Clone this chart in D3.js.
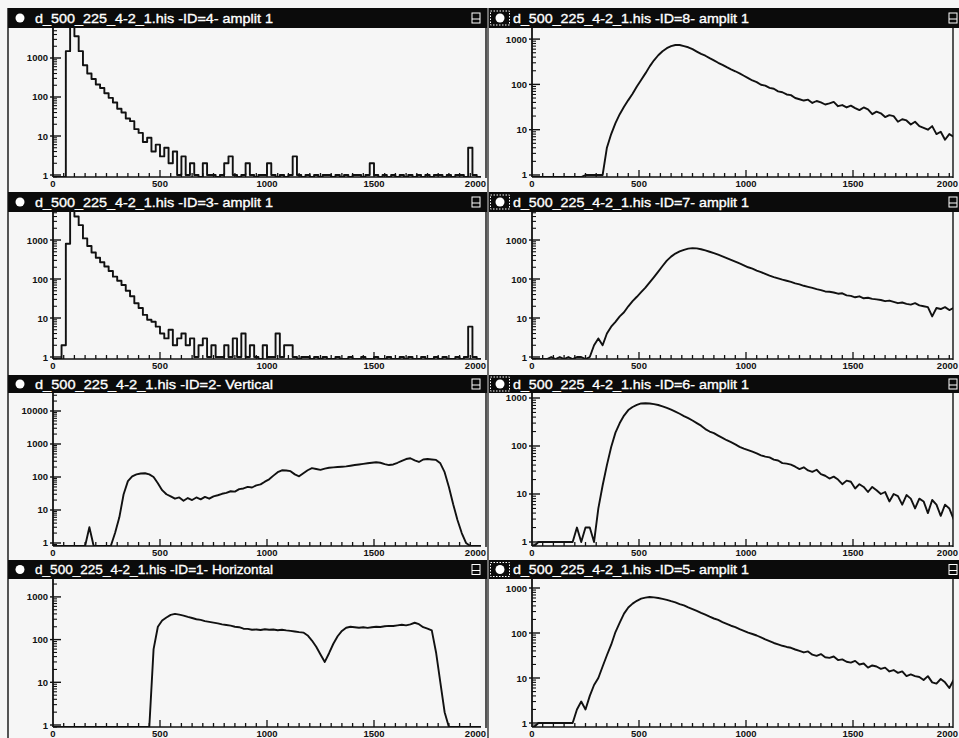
<!DOCTYPE html>
<html><head><meta charset="utf-8">
<script src="https://cdn.jsdelivr.net/npm/d3@7"></script>
<style>body{margin:0;background:#f6f6f6;} svg{display:block}</style>
</head><body><svg id="c" width="959" height="738"></svg>
<script>
// ---------------- DATA ----------------
const binWidth = 20;
const binStarts = d3.range(0, 2000, binWidth);   // channel bins 0..1980
const xTickValues = [0, 500, 1000, 1500, 2000];
const xTickLabels = ["0", "500", "1000", "1500", "2000"];

const titles = [
  "d_500_225_4-2_1.his -ID=4- amplit 1",
  "d_500_225_4-2_1.his -ID=8- amplit 1",
  "d_500_225_4-2_1.his -ID=3- amplit 1",
  "d_500_225_4-2_1.his -ID=7- amplit 1",
  "d_500_225_4-2_1.his -ID=2- Vertical",
  "d_500_225_4-2_1.his -ID=6- amplit 1",
  "d_500_225_4-2_1.his -ID=1- Horizontal",
  "d_500_225_4-2_1.his -ID=5- amplit 1"
];

const id4 = [0,0,0,1500,6500,3600,1500,650,400,290,
 210,170,125,95,72,50,40,28,24,15,
 12,7,9,4,6,3,5,2,4,1,
 3,1,2,1,0,2,1,1,0,1,
 2,3,1,0,1,2,1,0,1,1,
 2,1,0,1,0,1,3,1,0,1,
 0,1,0,1,1,0,1,0,1,0,
 1,1,0,1,2,1,0,1,0,1,
 0,1,0,1,0,1,0,1,0,1,
 1,0,1,0,1,1,0,5,1,0];

const id8 = [0,0,0,0,0,0,0,0,0,0,
 0,0,1,1,1,1,1,4,8,14,
 22,32,45,62,90,125,175,250,340,440,
 540,630,700,740,740,700,660,600,530,470,
 430,380,340,300,270,240,215,195,175,155,
 138,122,112,98,94,84,80,70,67,60,
 58,50,47,44,46,39,43,40,36,38,
 41,33,35,31,34,30,27,31,28,22,
 25,23,19,21,20,15,17,16,13,15,
 12,11,10,12,8,9,6,8,7,5.5];

const id3 = [0,0,2,800,5500,4000,2400,1100,700,480,
 350,270,210,160,115,90,70,50,36,24,
 18,12,9,8,6,4,3,5,2,3,
 4,2,3,1,2,3,1,2,1,1,
 2,1,3,1,4,1,2,1,0,2,
 1,1,4,1,2,2,1,0,1,1,
 0,1,0,1,0,0,1,0,0,1,
 0,0,1,0,0,1,0,0,1,0,
 0,1,0,1,0,0,1,0,0,1,
 0,1,0,0,1,0,1,6,1,0];

const id7 = [0,0,0,0,1,0,1,0,1,0,
 1,1,0,1,2,3,2,4,6,8,
 11,14,20,27,35,46,60,82,112,155,
 215,295,375,450,510,560,600,620,610,580,
 540,500,460,420,380,345,310,280,250,225,
 200,185,165,150,135,122,112,104,96,90,
 84,77,73,67,63,59,55,52,48,47,
 45,42,43,38,37,34,36,32,33,31,
 30,29,27,28,26,24,25,23,22,24,
 21,20,19,11,18,17,19,16,18,16];

const id2 = [0,0,0,0,0,0,0,0,3,0,
 0,0,0,0,2,6,30,75,105,120,
 128,130,120,100,65,40,30,26,22,24,
 19,23,20,24,21,25,22,26,28,31,
 33,37,36,43,45,50,48,56,60,72,
 85,110,140,160,158,150,120,105,130,160,
 185,175,165,180,190,195,200,205,210,220,
 230,240,250,260,270,280,270,245,230,240,
 270,310,350,370,320,285,340,350,340,330,
 260,140,50,15,5,2,1,0,0,0];

const id6 = [0,1,1,1,1,1,1,1,1,1,
 2,1,2,2,1,5,15,40,95,190,
 300,430,560,650,720,770,780,770,745,715,
 670,620,570,520,470,420,380,340,300,265,
 225,200,185,165,148,132,120,108,96,88,
 82,76,70,64,60,58,52,50,44,43,
 41,37,33,36,31,29,32,26,24,21,
 23,20,16,19,18,13,16,14,11,14,
 12,10,11,7,10,9,6,9.5,8,5,
 8,7,4,7.5,6,3.5,6,5,3,5];

const id1 = [0,0,0,0,0,0,0,0,0,0,
 0,0,0,0,0,0,0,0,0,0,
 0,0,0,60,200,280,330,380,400,385,
 365,340,320,300,290,270,260,250,240,228,
 220,212,200,195,180,178,170,172,168,175,
 170,172,166,170,164,160,155,150,146,125,
 95,68,45,30,48,80,120,160,190,200,
 195,190,195,188,195,200,198,205,210,208,
 215,222,215,228,248,230,195,180,165,50,
 10,2,0,0,0,0,0,0,0,0];

const id5 = [0,1,1,1,1,1,1,1,1,1,
 2,3,2,4,7,10,18,32,55,105,
 170,270,370,450,520,580,610,630,620,600,
 575,545,510,480,440,410,370,340,310,280,
 255,230,210,195,175,160,145,135,122,112,
 102,95,88,80,72,66,60,56,52,49,
 47,43,40,37,39,33,31,34,29,28,
 30,25,26,23,22,24,20,21,17,19,
 18,16,17,14,15,13,14,11,12,11,
 10.5,9,11,8,7.5,9.5,8,6,9,7];

const seriesList = [id4, id8, id3, id7, id2, id6, id1, id5];
const yMin = [0.889, 0.903, 0.889, 0.889, 0.811, 0.825, 0.898, 0.815];
const yMax = [5875, 1758, 5224, 5224, 35100, 1271, 2626, 1585];
const stepStyle = [true, false, true, false, false, false, false, false];

// ---------------- LAYOUT ----------------
const cols = [
  {x0: 8, x1: 487, ax0: 53, ax1: 481, clipR: 486, circ: 20, tx: 35, tw: 238, lab: 48},
  {x0: 489, x1: 959, ax0: 532, ax1: 960, clipR: 953, circ: 500, tx: 513, tw: 236, lab: 527}
];
const rows = [
  {top: 8, barB: 28, axisY: 177, bottom: 192},
  {top: 192, barB: 212, axisY: 359, bottom: 375},
  {top: 375, barB: 393, axisY: 546, bottom: 560},
  {top: 560, barB: 579, axisY: 727, bottom: 738}
];

const svg = d3.select("#c");
const INK = "#111";
const FONT = "Liberation Sans, Arial, sans-serif";
svg.append("rect").attr("width", 959).attr("height", 738).attr("fill", "#f6f6f6");

seriesList.forEach((vals, k) => {
  const c = cols[k % 2], r = rows[Math.floor(k / 2)];
  const g = svg.append("g");
  const clipId = "pc" + k;
  svg.append("clipPath").attr("id", clipId).append("rect")
    .attr("x", c.x0).attr("y", r.top).attr("width", c.x1 - c.x0).attr("height", r.bottom - r.top);
  g.attr("clip-path", `url(#${clipId})`);

  const x = d3.scaleLinear().domain([0, 2000]).range([c.ax0, c.ax1]);
  const y = d3.scaleLog().domain([yMin[k], yMax[k]]).range([r.axisY, r.barB]);

  const dclip = "dc" + k;
  svg.append("clipPath").attr("id", dclip).append("rect")
    .attr("x", c.ax0).attr("y", r.barB).attr("width", c.clipR - c.ax0).attr("height", r.axisY - r.barB);

  let pts, line;
  if (stepStyle[k]) {
    pts = binStarts.map((s, i) => [s, Math.max(vals[i], yMin[k])]);
    pts.push([2000, Math.max(vals[vals.length - 1], yMin[k])]);
    line = d3.line().x(d => x(d[0])).y(d => y(d[1])).curve(d3.curveStepAfter);
  } else {
    pts = binStarts.map((s, i) => [s + binWidth / 2, Math.max(vals[i], yMin[k])]);
    pts.unshift([0, Math.max(vals[0], yMin[k])]);
    pts.push([2000, Math.max(vals[vals.length - 1], yMin[k])]);
    line = d3.line().x(d => x(d[0])).y(d => y(d[1])).curve(d3.curveLinear);
  }
  g.append("path").attr("clip-path", `url(#${dclip})`).attr("d", line(pts))
    .attr("fill", "none").attr("stroke", INK).attr("stroke-width", 1.9).attr("stroke-linejoin", "round");

  // axes
  const right = Math.min(c.clipR, c.ax1);
  g.append("line").attr("x1", c.ax0).attr("x2", right).attr("y1", r.axisY).attr("y2", r.axisY)
    .attr("stroke", INK).attr("stroke-width", 1.6);
  g.append("line").attr("x1", c.ax0).attr("x2", c.ax0).attr("y1", r.axisY).attr("y2", r.barB)
    .attr("stroke", INK).attr("stroke-width", 1.8);
  g.append("line").attr("x1", c.clipR).attr("x2", c.clipR).attr("y1", r.axisY + 1).attr("y2", r.barB)
    .attr("stroke", INK).attr("stroke-width", 1.4);

  // x ticks
  d3.range(50, 2000, 50).forEach(t => {
    const big = t % 500 === 0;
    if (x(t) > right) return;
    g.append("line").attr("x1", x(t)).attr("x2", x(t)).attr("y1", r.axisY)
      .attr("y2", r.axisY - (big ? 7 : 4)).attr("stroke", INK).attr("stroke-width", 1.3);
  });
  xTickValues.forEach((t, i) => {
    let tx = x(t), anchor = "middle";
    if (t === 2000) { tx = c.x1 - 1; anchor = "end"; }
    g.append("text").attr("x", tx).attr("y", r.axisY + 10).attr("text-anchor", anchor)
      .attr("font-family", FONT).attr("font-weight", "bold")
      .attr("font-size", 9.5).attr("fill", INK).text(xTickLabels[i]);
  });

  // y ticks
  const lo = Math.floor(Math.log10(yMin[k])), hi = Math.ceil(Math.log10(yMax[k]));
  for (let e = lo; e <= hi; e++) {
    for (let m = 1; m <= 9; m++) {
      const v = m * Math.pow(10, e);
      if (v < yMin[k] || v > yMax[k]) continue;
      const yy = y(v);
      if (m === 1) {
        g.append("line").attr("x1", c.ax0 - 3).attr("x2", c.ax0 + 8).attr("y1", yy).attr("y2", yy)
          .attr("stroke", INK).attr("stroke-width", 1.4);
        g.append("text").attr("x", c.lab).attr("y", yy + 3.5).attr("text-anchor", "end")
          .attr("font-family", FONT).attr("font-weight", "bold")
          .attr("font-size", 9.5).attr("fill", INK).text(d3.format("d")(v));
      } else {
        g.append("line").attr("x1", c.ax0).attr("x2", c.ax0 + 4).attr("y1", yy).attr("y2", yy)
          .attr("stroke", INK).attr("stroke-width", 1.1);
      }
    }
  }

  // title bar
  g.append("rect").attr("x", c.x0).attr("y", r.top).attr("width", c.x1 - c.x0)
    .attr("height", r.barB - r.top).attr("fill", "#0b0b0b");
  const cy = (r.top + r.barB) / 2;
  g.append("circle").attr("cx", c.circ).attr("cy", cy).attr("r", 4.5).attr("fill", "#fff");
  if (k % 2 === 1) {
    g.append("rect").attr("x", c.x0 + 1.5).attr("y", cy - 7).attr("width", 19).attr("height", 14)
      .attr("fill", "none").attr("stroke", "#fff").attr("stroke-width", 1).attr("stroke-dasharray", "1.5,1.5");
  }
  g.append("text").attr("x", c.tx).attr("y", cy + 4.8).attr("fill", "#fff")
    .attr("stroke", "#fff").attr("stroke-width", 0.35)
    .attr("font-family", FONT).attr("font-size", 13.5)
    .attr("textLength", c.tw).attr("lengthAdjust", "spacingAndGlyphs").text(titles[k]);
  const ix = c.x1 - (k % 2 === 0 ? 15 : 10);
  g.append("rect").attr("x", ix).attr("y", cy - 5).attr("width", 8).attr("height", 10)
    .attr("fill", "none").attr("stroke", "#fff").attr("stroke-width", 1);
  g.append("line").attr("x1", ix).attr("x2", ix + 8).attr("y1", cy + 1).attr("y2", cy + 1)
    .attr("stroke", "#fff").attr("stroke-width", 1);
});

// panel borders
svg.append("line").attr("x1", 8).attr("x2", 8).attr("y1", 8).attr("y2", 738).attr("stroke", INK).attr("stroke-width", 1.4);
svg.append("line").attr("x1", 488).attr("x2", 488).attr("y1", 8).attr("y2", 738).attr("stroke", INK).attr("stroke-width", 1.2);
</script></body></html>
